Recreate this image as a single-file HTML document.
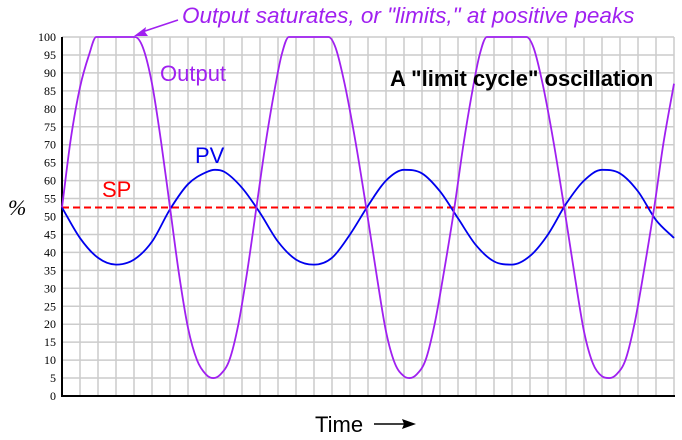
<!DOCTYPE html>
<html><head><meta charset="utf-8"><style>
html,body{margin:0;padding:0;background:#fff;}
svg{display:block;}
</style></head><body>
<svg id="chart" width="682" height="440" viewBox="0 0 682 440" xmlns="http://www.w3.org/2000/svg">
<g id="grid"></g>
<g id="yticks" font-family="Liberation Serif, serif" font-size="12" fill="#000" text-anchor="end"></g>
<line x1="62" y1="37" x2="62" y2="397" stroke="#000" stroke-width="2"/>
<line x1="61" y1="396" x2="675" y2="396" stroke="#000" stroke-width="2"/>
<g id="series"></g>
<text x="8" y="215" font-family="Liberation Serif, serif" font-style="italic" font-size="22">%</text>
<text x="315" y="432" font-family="Liberation Sans, sans-serif" font-size="22">Time</text>
<line x1="374" y1="424" x2="408" y2="424" stroke="#000" stroke-width="1.5"/>
<polygon points="416,424 402,419 404,424 402,429" fill="#000"/>
<text x="182" y="23" font-family="Liberation Sans, sans-serif" font-style="italic" font-size="22.5" fill="#a020f0">Output saturates, or "limits," at positive peaks</text>
<line x1="178" y1="20" x2="142" y2="32" stroke="#a020f0" stroke-width="1.5"/>
<polygon points="134,36 146,27 145,32 148,36" fill="#a020f0"/>
<text x="160" y="81" font-family="Liberation Sans, sans-serif" font-size="22" fill="#a020f0">Output</text>
<text x="390" y="86" font-family="Liberation Sans, sans-serif" font-weight="bold" font-size="22" fill="#000">A "limit cycle" oscillation</text>
<text x="195" y="163" font-family="Liberation Sans, sans-serif" font-size="22" fill="#0000ee">PV</text>
<text x="102" y="197" font-family="Liberation Sans, sans-serif" font-size="22" fill="#ff0000">SP</text>
</svg>
<script>
const yTickLabels=[0,5,10,15,20,25,30,35,40,45,50,55,60,65,70,75,80,85,90,95,100];
const spValue=52.5;
const outTimes=[0,0.5,1,1.5,1.9,4.05,4.5,5,5.5,6,6.5,7,7.5,8,8.4,8.8,9.3,9.8,10.3,10.8,11.3,11.8,12.2,12.6,14.8,15.2,15.7,16.3,16.9,17.5,18,18.5,19,19.3,19.7,20.2,20.7,21.2,21.8,22.3,22.8,23.2,23.6,25.8,26.2,26.7,27.3,27.9,28.5,29,29.5,30,30.4,30.8,31.3,31.8,32.3,32.9,33.4,34];
const outValues=[52.5,72,86,95,100,100,97,87,71,52.5,34,19,10,6,5,6,10,20,35,52.5,70,85,95,100,100,97,87,71,52.5,33,18,9,5.5,5,6,10,20,34,52.5,70,85,95,100,100,97,87,71,52.5,33,18,9,5.5,5,6,10,20,34,52.5,70,87];
const pvTimes=[0,1,2,3,4,5,6,7,8,8.5,9,10,11,12,13,14,15,16,17,18,19,20,21,22,23,24,25,26,27,28,29,30,31,32,33,34];
const pvValues=[52.5,44,38.5,36.6,38,43,52,59,62.3,63,62.5,58,51,43,38,36.6,38.5,45,53,60,63,62,57,49.5,42,37.5,36.6,39,45,53.5,60,63,62,57,49,44];
const X0=62,X1=674,Y0=396,Y1=37,TMAX=34;
const xs=t=>X0+(X1-X0)*t/TMAX;
const ys=v=>Y0-(Y0-Y1)*v/100;
const NS="http://www.w3.org/2000/svg";
const grid=document.getElementById('grid');
for(let i=1;i<=TMAX;i++){
  const l=document.createElementNS(NS,'line');
  
  
  l.setAttribute('x1',xs(i));l.setAttribute('x2',xs(i));l.setAttribute('y1',Y1);l.setAttribute('y2',Y0);
  l.setAttribute('stroke','#cccccc');l.setAttribute('stroke-width','1.5');
  grid.appendChild(l);
}
const yt=document.getElementById('yticks');
yTickLabels.forEach(v=>{
  if(v>0){
  const l=document.createElementNS(NS,'line');
  
  
  l.setAttribute('x1',X0);l.setAttribute('x2',X1);l.setAttribute('y1',ys(v));l.setAttribute('y2',ys(v));
  l.setAttribute('stroke','#cccccc');l.setAttribute('stroke-width','1.5');
  grid.appendChild(l);}
  const t=document.createElementNS(NS,'text');
  
  
  t.setAttribute('x',56);t.setAttribute('y',ys(v)+4);t.textContent=v;
  yt.appendChild(t);
});
function monotonePath(T,V){
  const n=T.length,px=T.map(xs),py=V.map(ys);
  const d=[],m=new Array(n);
  for(let i=0;i<n-1;i++)d.push((py[i+1]-py[i])/(px[i+1]-px[i]));
  m[0]=d[0];m[n-1]=d[n-2];
  for(let i=1;i<n-1;i++){m[i]=(d[i-1]*d[i]<=0)?0:(d[i-1]+d[i])/2;}
  for(let i=0;i<n-1;i++){
    if(d[i]===0){m[i]=0;m[i+1]=0;continue;}
    const a=m[i]/d[i],b=m[i+1]/d[i],s=a*a+b*b;
    if(s>9){const k=3/Math.sqrt(s);m[i]=k*a*d[i];m[i+1]=k*b*d[i];}
  }
  let p='M'+px[0]+','+py[0];
  for(let i=0;i<n-1;i++){const h=(px[i+1]-px[i])/3;
    p+=' C'+(px[i]+h)+','+(py[i]+m[i]*h)+' '+(px[i+1]-h)+','+(py[i+1]-m[i+1]*h)+' '+px[i+1]+','+py[i+1];}
  return p;
}
const ser=document.getElementById('series');
const sp=document.createElementNS(NS,'line');


sp.setAttribute('x1',X0);sp.setAttribute('x2',X1);sp.setAttribute('y1',ys(spValue));sp.setAttribute('y2',ys(spValue));
sp.setAttribute('stroke','#ff0000');sp.setAttribute('stroke-width','2');sp.setAttribute('stroke-dasharray','7,4');
ser.appendChild(sp);
const pv=document.createElementNS(NS,'path');


pv.setAttribute('d',monotonePath(pvTimes,pvValues));
pv.setAttribute('fill','none');pv.setAttribute('stroke','#0000ee');pv.setAttribute('stroke-width','1.8');
ser.appendChild(pv);
const out=document.createElementNS(NS,'path');


out.setAttribute('d',monotonePath(outTimes,outValues));
out.setAttribute('fill','none');out.setAttribute('stroke','#a020f0');out.setAttribute('stroke-width','1.8');
ser.appendChild(out);
</script>
</body></html>
